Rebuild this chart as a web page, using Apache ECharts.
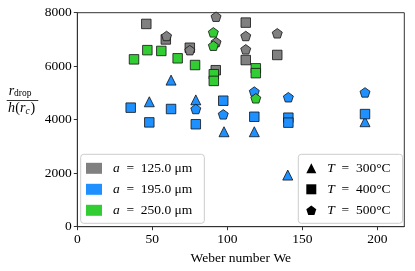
<!DOCTYPE html>
<html>
<head>
<meta charset="utf-8">
<script src="https://cdn.jsdelivr.net/npm/echarts@6/dist/echarts.min.js"></script>
<style>html,body{margin:0;padding:0;background:#fff}#c{width:415px;height:271px}</style>
</head>
<body>
<div id="c"></div>
<script>
// ---- data: [Weber number, r_drop / h(r_c)] ----
const gray400 = [[46,7580],[59,7000],[75,6690],[92.3,5850],[112.3,7630],[112.3,6230],[133.3,6420]];
const gray500 = [[59.5,7130],[75,6600],[92.5,7850],[92.5,6900],[112.3,7130],[112.3,6630],[133.3,7230]];
const blue300 = [[48,4670],[62.5,5480],[79,4740],[97.8,3550],[118,3550],[140.3,1930],[191.8,3925]];
const blue400 = [[35.6,4450],[48,3900],[62.5,4400],[79,3830],[97.3,4710],[118,4110],[140.7,4075],[140.7,3890],[191.8,4210]];
const blue500 = [[79,4400],[97.3,4200],[118,5050],[140.7,4840],[191.8,5020]];
const green400 = [[37.8,6256],[46.7,6600],[56,6570],[66.9,6295],[78.5,6044],[91,5700],[91,5450],[119,5920],[119,5740]];
const green500 = [[90.7,7265],[90.7,6766],[119,4800]];

const xTicks = [0,50,100,150,200];
const yTicks = [0,2000,4000,6000,8000];
const sizeNames = ['a = 125.0 μm','a = 195.0 μm','a = 250.0 μm'];
const tempNames = ['T = 300°C','T = 400°C','T = 500°C'];

const FONT = '"Liberation Serif", "DejaVu Serif", serif';
const C_GRAY = '#808080', C_BLUE = '#1e90ff', C_GREEN = '#32cd32';
const PENT = 'path://M0,-1L0.951,-0.309L0.588,0.809L-0.588,0.809L-0.951,-0.309Z';
const SYM = {300:'triangle', 400:'rect', 500:PENT};
const SSZ = {300:10, 400:9.5, 500:10};

function sc(name, data, color, t){
  return {type:'scatter', name:name, data:data, symbol:SYM[t], symbolSize:SSZ[t], symbolKeepAspect:true,
    itemStyle:{color:color, borderColor:'#111', borderWidth:0.8, opacity:1},
    emphasis:{disabled:true}, animation:false};
}
function dummy(name, color, symbol){
  const s = {type:'scatter', name:name, data:[], itemStyle:{color:color, opacity:1}};
  if (symbol) s.symbol = symbol;
  return s;
}

const series = [
  sc('g400', gray400, C_GRAY, 400),
  sc('g500', gray500, C_GRAY, 500),
  sc('b300', blue300, C_BLUE, 300),
  sc('b400', blue400, C_BLUE, 400),
  sc('b500', blue500, C_BLUE, 500),
  sc('gr400', green400, C_GREEN, 400),
  sc('gr500', green500, C_GREEN, 500),
  dummy(sizeNames[0], C_GRAY), dummy(sizeNames[1], C_BLUE), dummy(sizeNames[2], C_GREEN),
  dummy(tempNames[0], '#000', 'triangle'), dummy(tempNames[1], '#000', 'rect'), dummy(tempNames[2], '#000', PENT)
];

function fmt(n){ return '{i|' + n.charAt(0) + '}' + n.slice(1).replace(' = ', '  =  '); }

const legendBase = {
  orient:'vertical', selectedMode:false,
  backgroundColor:'rgba(255,255,255,0.8)', borderColor:'#cccccc', borderWidth:1, borderRadius:3,
  formatter: fmt,
  textStyle:{fontFamily:FONT, fontSize:13.5, color:'#000', lineHeight:14, padding:[0,0,0,6],
    rich:{i:{fontFamily:FONT, fontSize:13.5, fontStyle:'italic', color:'#000'}}}
};

const option = {
  animation:false,
  grid:{left:77.3, right:10.7, top:12.7, bottom:44.3, containLabel:false, outerBoundsMode:'none',
    show:true, borderColor:'#333', borderWidth:1, backgroundColor:'transparent'},
  xAxis:{type:'value', min:0, max:218, interval:50,
    name:'Weber number We', nameLocation:'middle', nameGap:22,
    nameTextStyle:{fontFamily:FONT, fontSize:13.5, color:'#000'},
    axisLine:{show:true, lineStyle:{color:'#333', width:1}},
    axisTick:{show:true, inside:false, length:3.5, lineStyle:{color:'#333'}, customValues:xTicks},
    axisLabel:{fontFamily:FONT, fontSize:13.5, color:'#000', margin:6, customValues:xTicks},
    splitLine:{show:false}},
  yAxis:{type:'value', min:0, max:8000, interval:2000,
    axisLine:{show:true, lineStyle:{color:'#333', width:1}},
    axisTick:{show:true, inside:false, length:3.5, lineStyle:{color:'#333'}, customValues:yTicks},
    axisLabel:{fontFamily:FONT, fontSize:13.5, color:'#000', margin:5.5, customValues:yTicks,
      formatter:function(v){ return String(v); }},
    splitLine:{show:false}},
  legend:[
    Object.assign({}, legendBase, {left:80.7, top:154.3, padding:[7,12,6,5.3], itemWidth:16, itemHeight:11, itemGap:7,
      data:sizeNames.map((n,i)=>({name:n, icon:'rect', itemStyle:{color:[C_GRAY,C_BLUE,C_GREEN][i], borderWidth:0, opacity:1}}))}),
    Object.assign({}, legendBase, {left:298.3, top:154.3, padding:[7,12,6,8], itemWidth:10, itemHeight:10, itemGap:7,
      data:tempNames.map((n,i)=>({name:n, icon:['triangle','rect',PENT][i], itemStyle:{color:'#000', borderWidth:0, opacity:1}}))})
  ],
  graphic:[
    {type:'text', x:8.7, y:91, style:{text:'r', font:'italic 14px '+FONT, fill:'#000', textVerticalAlign:'middle'}},
    {type:'text', x:14, y:93.5, style:{text:'drop', font:'9.5px '+FONT, fill:'#000', textVerticalAlign:'middle'}},
    {type:'line', shape:{x1:6.7, y1:100.5, x2:38.3, y2:100.5}, style:{stroke:'#000', lineWidth:0.8}},
    {type:'text', x:8, y:108, style:{text:'h', font:'italic 14px '+FONT, fill:'#000', textVerticalAlign:'middle'}},
    {type:'text', x:15.2, y:108, style:{text:'(', font:'14px '+FONT, fill:'#000', textVerticalAlign:'middle'}},
    {type:'text', x:20, y:108, style:{text:'r', font:'italic 14px '+FONT, fill:'#000', textVerticalAlign:'middle'}},
    {type:'text', x:25.5, y:111, style:{text:'c', font:'italic 9.5px '+FONT, fill:'#000', textVerticalAlign:'middle'}},
    {type:'text', x:30.5, y:108, style:{text:')', font:'14px '+FONT, fill:'#000', textVerticalAlign:'middle'}}
  ],
  series: series
};

const chart = echarts.init(document.getElementById('c'), null, {renderer:'canvas'});
chart.setOption(option);
</script>
</body>
</html>
